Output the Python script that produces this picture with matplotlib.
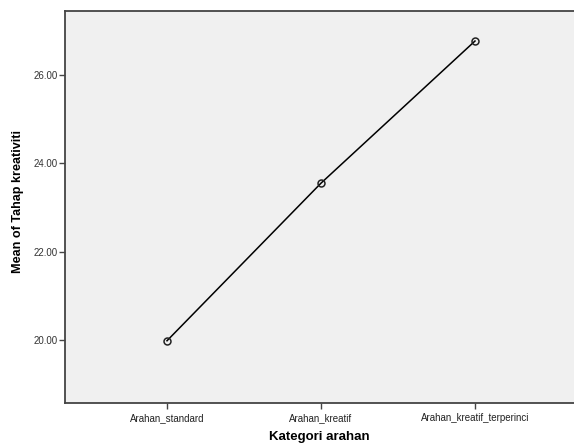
import matplotlib
matplotlib.use("Agg")
import matplotlib.pyplot as plt

categories = ["Arahan_standard", "Arahan_kreatif", "Arahan_kreatif_terperinci"]
means = [19.98, 23.55, 26.77]
yticks = [20.0, 22.0, 24.0, 26.0]

plt.rcParams['font.family'] = ['Liberation Sans', 'DejaVu Sans']

fig = plt.figure(figsize=(5.74, 4.45), dpi=100)
ax = fig.add_axes([65/574, 1 - 403/445, 1 - 65/574, (403 - 11)/445])
ax.set_facecolor('#f0f0f0')

x = list(range(len(categories)))
ax.plot(x, means, color='black', linewidth=1.1, marker='o', markersize=5,
        markerfacecolor='none', markeredgecolor='#222222', markeredgewidth=1.1)

ax.set_xlim(-102/154, 2 + 99/154)
ax.set_ylim(18.57, 27.45)
ax.set_xticks(x)
ax.set_xticklabels(categories, fontsize=7, color='#222222')
ax.set_yticks(yticks)
ax.set_yticklabels([f"{v:.2f}" for v in yticks], fontsize=7, color='#333333')
ax.tick_params(axis='both', direction='out', length=4, width=1.0, color='#444444')
ax.tick_params(axis='x', pad=3)
ax.tick_params(axis='y', pad=1)

for side in ['left', 'bottom', 'top']:
    ax.spines[side].set_color('#444444')
    ax.spines[side].set_linewidth(1.3)
ax.spines['right'].set_visible(False)

ax.set_xlabel("Kategori arahan", fontsize=9.5, fontweight='bold', labelpad=6)
ax.set_ylabel("Mean of Tahap kreativiti", fontsize=9.1, fontweight='bold', labelpad=6)
ax.yaxis.set_label_coords(-0.080, 0.513)

fig.savefig("out.png", dpi=100)
